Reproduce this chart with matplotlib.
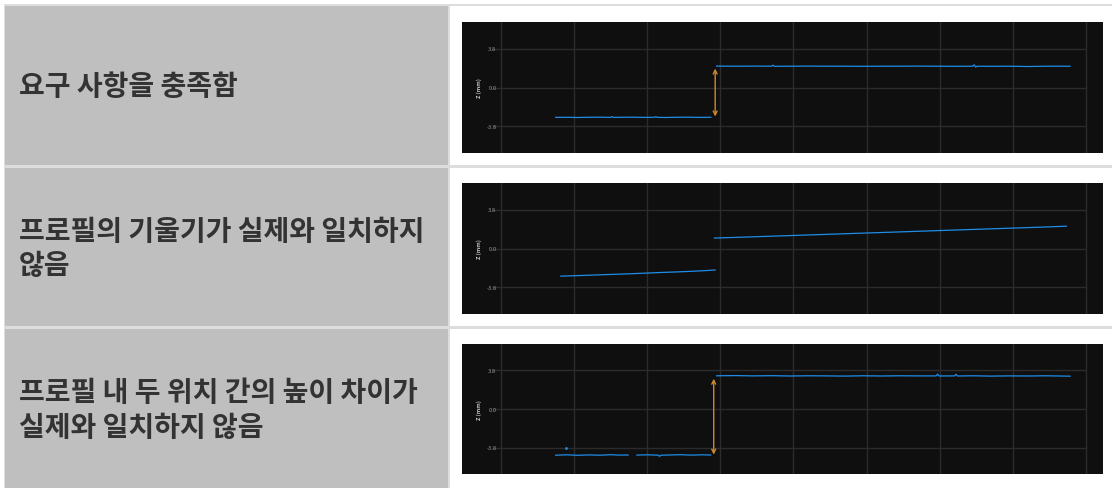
import matplotlib
matplotlib.use("Agg")
import matplotlib.pyplot as plt
from matplotlib.patches import Rectangle

W, H = 1112, 489

# ---- data -------------------------------------------------------------
labels = [
    "요구 사항을 충족함",
    "프로필의 기울기가 실제와 일치하지\n않음",
    "프로필 내 두 위치 간의 높이 차이가\n실제와 일치하지 않음",
]
ytick_vals = [3.8, 0.0, -3.8]
ytick_text = ["3.8", "0.0", "-3.8"]

# row 1 : good profile
r1_low_x = [0.75, 0.9, 1.05, 1.2, 1.35, 1.5, 1.52, 1.54, 1.65, 1.8, 1.95, 2.1, 2.12, 2.14, 2.25, 2.4, 2.55, 2.7, 2.87]
r1_low_z = [-2.92, -2.91, -2.93, -2.91, -2.90, -2.92, -2.84, -2.92, -2.91, -2.90, -2.92, -2.91, -2.85, -2.92, -2.93, -2.91, -2.90, -2.92, -2.91]
r1_high_x = [2.95, 3.2, 3.45, 3.7, 3.72, 3.74, 3.95, 4.2, 4.45, 4.7, 4.95, 5.2, 5.45, 5.7, 5.95, 6.2, 6.45,
             6.47, 6.49, 6.51, 6.7, 6.95, 7.2, 7.45, 7.78]
r1_high_z = [2.09, 2.08, 2.09, 2.08, 2.18, 2.07, 2.08, 2.09, 2.08, 2.08, 2.07, 2.08, 2.08, 2.09, 2.08, 2.07, 2.08,
             2.22, 2.00, 2.08, 2.07, 2.08, 2.05, 2.08, 2.08]
r1_arrow = (2.93, 1.85, -2.83)

# row 2 : tilted profile
r2_low_x = [0.82, 1.0, 1.2, 1.4, 1.6, 1.8, 2.0, 2.2, 2.4, 2.6, 2.8, 2.93]
r2_low_z = [-2.70, -2.66, -2.61, -2.56, -2.51, -2.46, -2.40, -2.34, -2.29, -2.23, -2.16, -2.10]
r2_high_x = [2.92, 3.4, 3.9, 4.4, 4.9, 5.4, 5.9, 6.4, 6.9, 7.4, 7.73]
r2_high_z = [1.02, 1.13, 1.25, 1.37, 1.49, 1.61, 1.73, 1.85, 1.97, 2.09, 2.18]

# row 3 : wrong height difference
r3_low1_x = [0.75, 0.9, 1.05, 1.2, 1.35, 1.5, 1.62, 1.74]
r3_low1_z = [-4.55, -4.51, -4.56, -4.52, -4.55, -4.50, -4.54, -4.53]
r3_low2_x = [1.86, 2.0, 2.15, 2.17, 2.19, 2.3, 2.45, 2.6, 2.75, 2.87]
r3_low2_z = [-4.54, -4.51, -4.55, -4.66, -4.55, -4.53, -4.50, -4.54, -4.51, -4.53]
r3_high_x = [2.95, 3.2, 3.45, 3.7, 3.95, 4.2, 4.45, 4.7, 4.95, 5.2, 5.45, 5.7, 5.95, 5.97, 5.99,
             6.2, 6.22, 6.24, 6.45, 6.7, 6.95, 7.2, 7.45, 7.78]
r3_high_z = [3.27, 3.29, 3.26, 3.28, 3.25, 3.27, 3.26, 3.24, 3.27, 3.25, 3.27, 3.26, 3.26, 3.44, 3.25,
             3.26, 3.42, 3.25, 3.27, 3.24, 3.26, 3.25, 3.27, 3.23]
r3_stray = (0.89, -3.8)
r3_arrow = (2.91, 2.98, -4.49)

# ---- layout -----------------------------------------------------------
plt.rcParams['font.family'] = ['Noto Sans CJK KR', 'DejaVu Sans']

fig = plt.figure(figsize=(W / 100, H / 100), dpi=100, facecolor="white")


def fbox(x0, y0, x1, y1):
    # pixel box (top-left origin) -> figure fraction
    return [x0 / W, 1 - y1 / H, (x1 - x0) / W, (y1 - y0) / H]


def add_rect(x0, y0, x1, y1, color):
    b = fbox(x0, y0, x1, y1)
    fig.patches.append(Rectangle((b[0], b[1]), b[2], b[3], transform=fig.transFigure,
                                 facecolor=color, edgecolor="none", zorder=0))


border = "#dddddd"
cell_gray = "#bfbfbf"
rows_y = [(7, 166), (169, 327), (330, 489)]
panels_y = [(23, 154), (184, 315), (345, 475)]

add_rect(4, 5, W, 7, border)
add_rect(4, 5, 5, H, border)
add_rect(448, 5, 450, H, border)
for (y0, y1) in rows_y:
    add_rect(5, y0, 448, y1, cell_gray)
add_rect(4, 166, W, 169, border)
add_rect(4, 327, W, 330, border)

for (y0, y1), txt in zip(rows_y, labels):
    fig.text(19 / W, 1 - ((y0 + y1) / 2 + 1) / H, txt, ha="left", va="center",
             fontsize=20.2, fontweight="bold", color="#333333", linespacing=1.28)

grid_c = "#2c2c2c"
line_c = "#1f8de8"
arrow_c = "#d08a28"


def make_panel(y0, y1):
    ax = fig.add_axes(fbox(462, y0, 1103, y1))
    ax.set_facecolor("#0f0f0f")
    ax.set_xlim(-0.53, 8.23)
    ax.set_ylim(-6.4, 6.4)
    for s in ax.spines.values():
        s.set_visible(False)
    ax.set_xticks([])
    ax.set_yticks([])
    for gx in range(9):
        ax.axvline(gx, color=grid_c, lw=1, zorder=1)
    ax.hlines(ytick_vals, -0.12, 8, color=grid_c, lw=1, zorder=1)
    for v, t in zip(ytick_vals, ytick_text):
        ax.text(-0.06, v, t, ha="right", va="center", fontsize=4.2, color="#9a9a9a", zorder=3)
    ax.text(-0.29, 0, "Z (mm)", rotation=90, ha="center", va="center",
            fontsize=4, fontweight="bold", color="#c8c8c8")
    return ax


def arrow(ax, a):
    x, ytop, ybot = a
    ax.annotate("", xy=(x, ytop), xytext=(x, ybot),
                arrowprops=dict(arrowstyle="<->", color=arrow_c, lw=1.0,
                                mutation_scale=7, shrinkA=0, shrinkB=0), zorder=4)


lw = 0.9
ax1 = make_panel(*panels_y[0])
ax1.plot(r1_low_x, r1_low_z, color=line_c, lw=lw, zorder=3)
ax1.plot(r1_high_x, r1_high_z, color=line_c, lw=lw, zorder=3)
arrow(ax1, r1_arrow)

ax2 = make_panel(*panels_y[1])
ax2.plot(r2_low_x, r2_low_z, color=line_c, lw=lw, zorder=3)
ax2.plot(r2_high_x, r2_high_z, color=line_c, lw=lw, zorder=3)

ax3 = make_panel(*panels_y[2])
ax3.plot(r3_low1_x, r3_low1_z, color=line_c, lw=lw, zorder=3)
ax3.plot(r3_low2_x, r3_low2_z, color=line_c, lw=lw, zorder=3)
ax3.plot(r3_high_x, r3_high_z, color=line_c, lw=lw, zorder=3)
ax3.plot([r3_stray[0]], [r3_stray[1]], "o", color=line_c, ms=1.0, zorder=3)
arrow(ax3, r3_arrow)

fig.savefig("out.png", dpi=100, facecolor="white")
